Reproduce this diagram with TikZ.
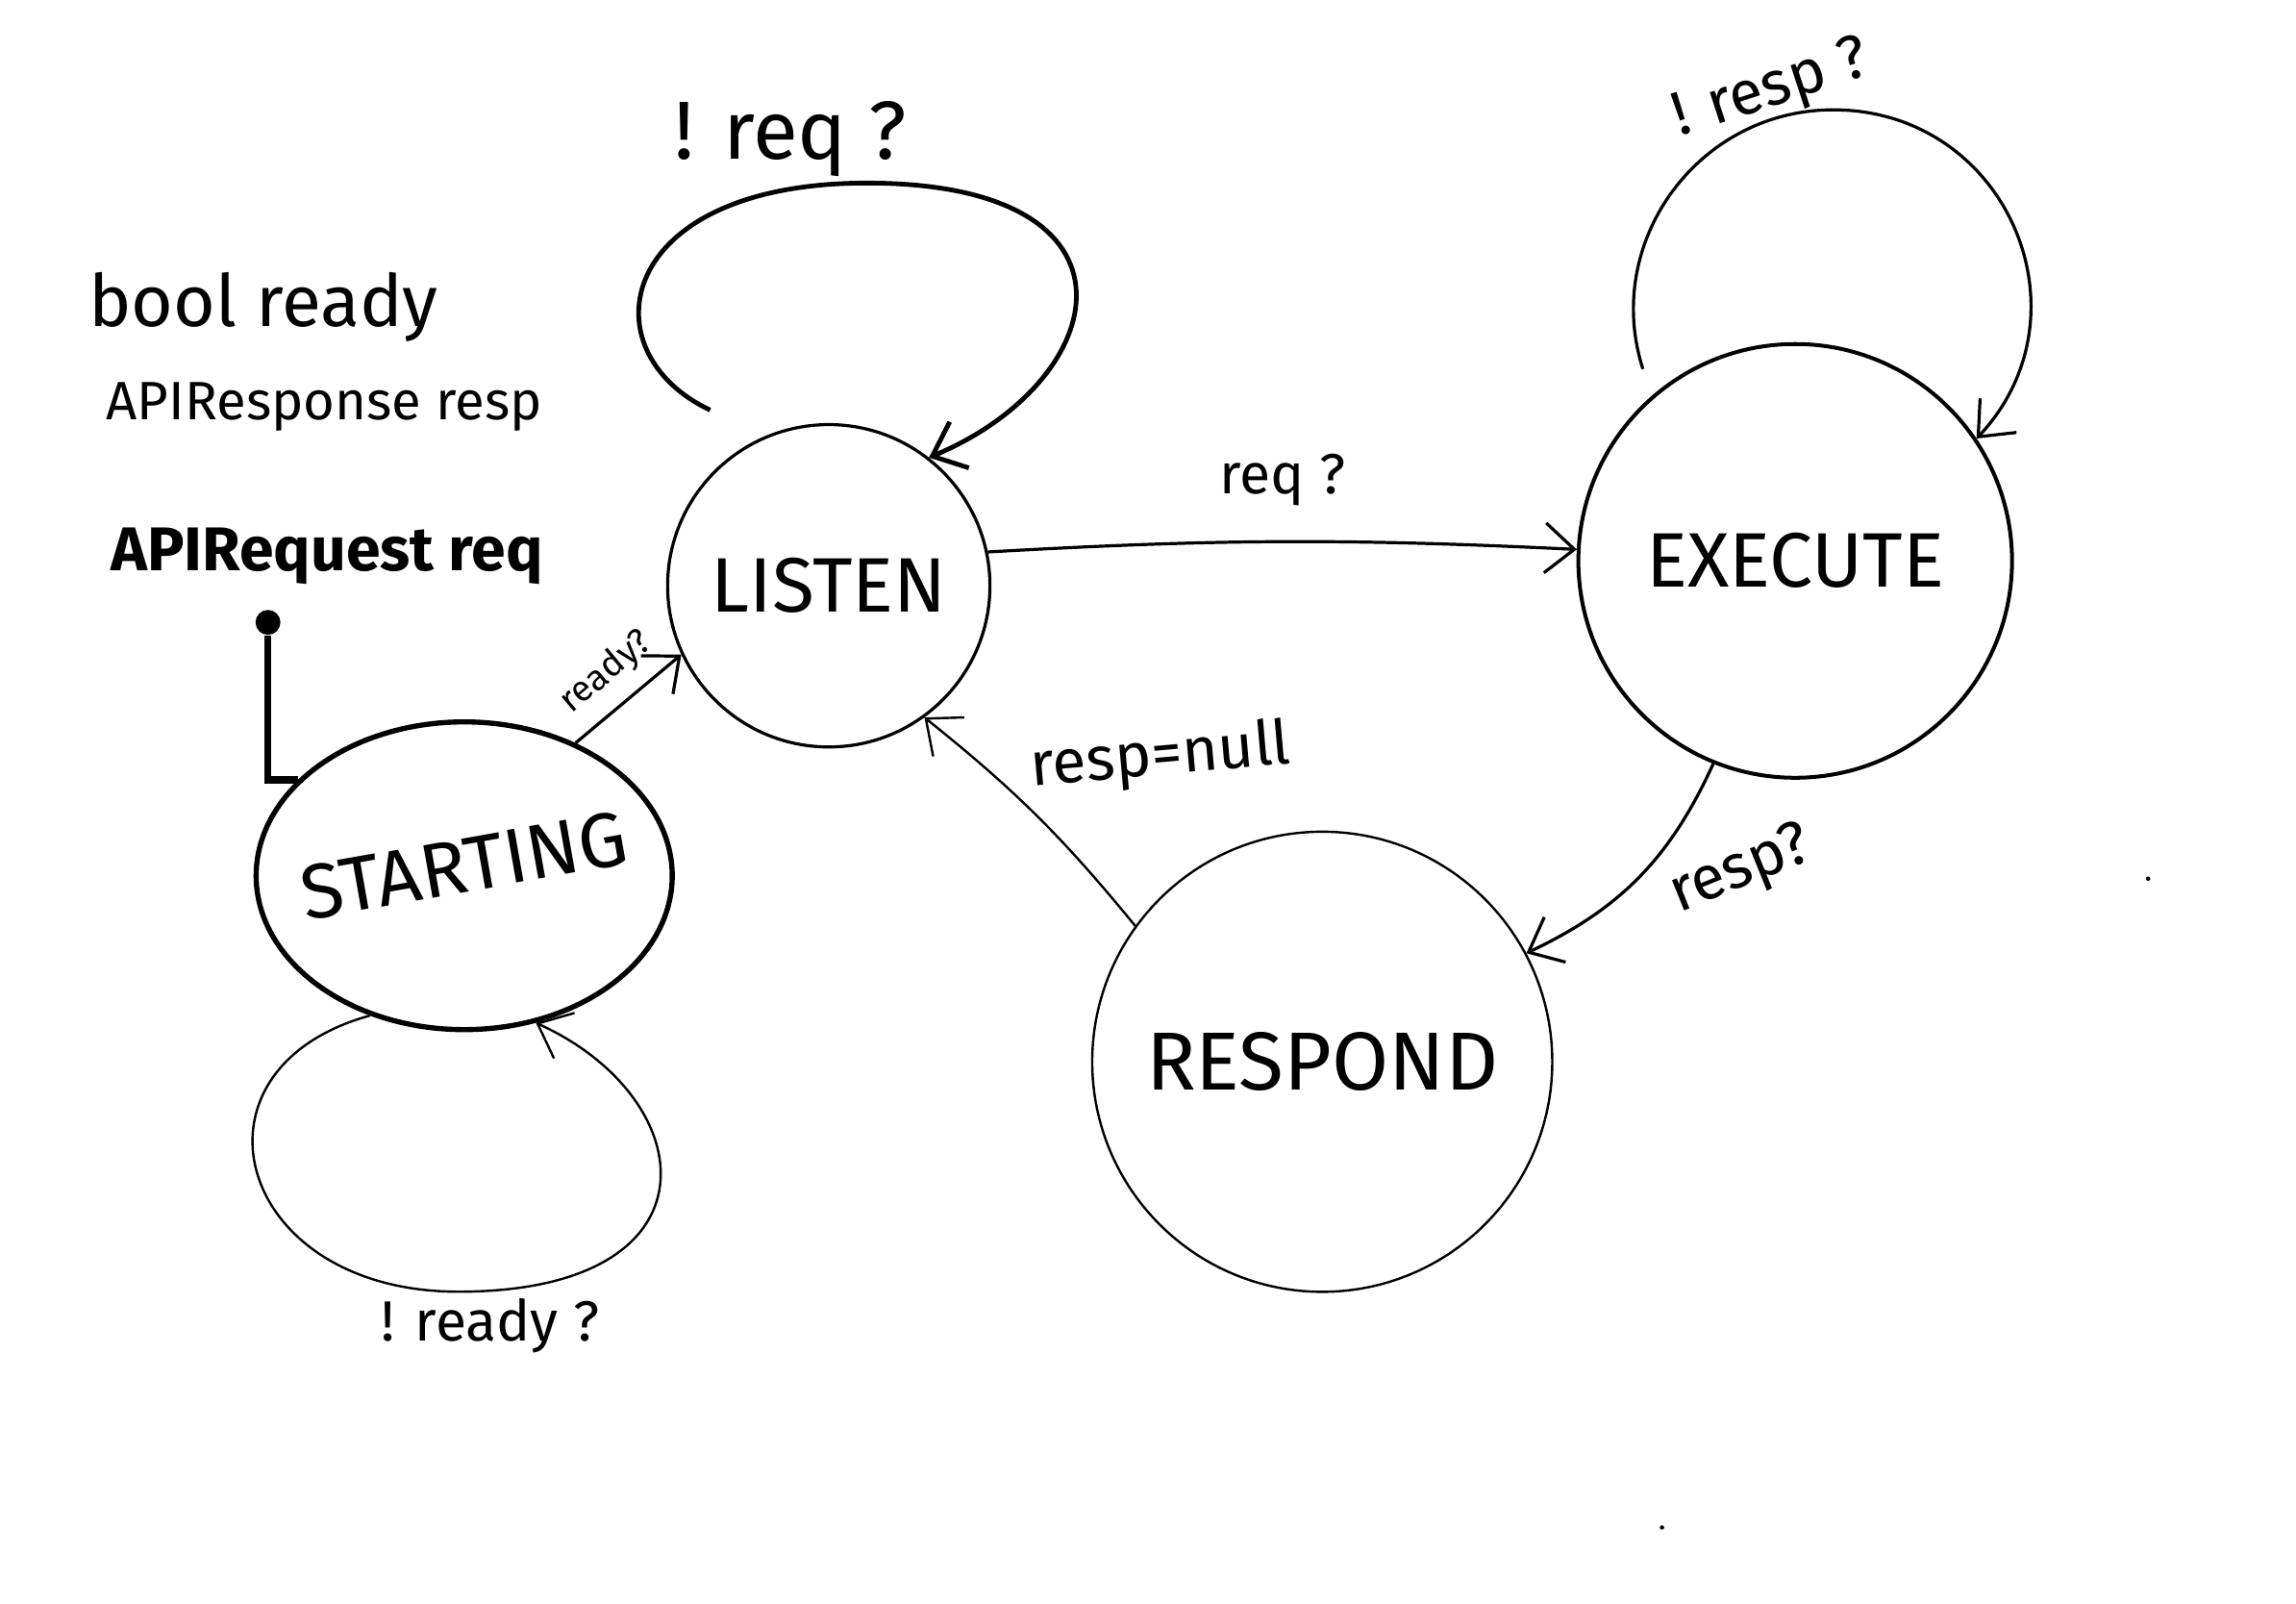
\documentclass[tikz,border=0pt]{standalone}
\usepackage{fontspec}
\setmainfont{Fira Sans}
\usetikzlibrary{arrows.meta,positioning,shapes.geometric}
\newcommand{\fsz}[1]{\fontsize{#1}{#1}\selectfont}
\tikzset{
  state/.style={draw, circle, inner sep=0pt, line width=0.6pt},
  startstate/.style={draw, ellipse, inner sep=0pt, line width=1pt,
    minimum width=2.84cm, minimum height=2.1cm},
  arr/.style={-{Straight Barb[length=2mm, width=3.4mm]}, line width=0.6pt},
  thinarr/.style={arr, line width=0.45pt},
  lbl/.style={inner sep=1pt, font=\fsz{11}},
  decl/.style={anchor=west, inner sep=0pt},
  speck/.style={circle, fill, inner sep=0pt, minimum size=0.03cm}
}

\begin{document}
\begin{tikzpicture}[x=0.01cm, y=0.01cm]
  \useasboundingbox (0,0) rectangle (1568,-1095);
  \node[state, minimum size=2.2cm, font=\fsz{15}] (lst) at (566,-400) {LISTEN};
  \node[state, minimum size=2.96cm, line width=0.75pt, font=\fsz{15}] (exe) at (1226,-383) {EXECUTE};
  \node[state, minimum size=3.14cm, line width=0.45pt, font=\fsz{16}] (rsp) at (903,-725) {RESPOND};
  \node[startstate, font=\fsz{15}] (strt) at (317,-598)
    {\smash{\makebox[0pt]{\raisebox{-0.4ex}{\rotatebox[origin=c]{10}{STARTING}}}}};

  \node[decl, font=\fsz{14}] (vready) at (60,-210) {bool ready};
  \node[decl, font=\fsz{10.5}] (vresp) at (72,-278) {APIResponse resp};
  \node[decl, font=\bfseries\fsz{12}] (vreq) at (75,-380) {APIRequest req};

  \node[circle, fill, inner sep=0pt, minimum size=0.17cm] (init) at (183,-425) {};
  \draw[line width=1.4pt] (init) |- (strt.150);

  \coordinate (lstloop) at (485,-280);
  \draw[arr, line width=0.9pt] (lstloop) .. controls (400,-240) and (420,-125) .. (592,-125)
    .. controls (790,-125) and (760,-260) .. (lst.52);
  \node[lbl, font=\fsz{16}] (lstlooplbl) at (540,-95) {! req ?};

  \coordinate (exeloop) at (1122,-252);
  \draw[arr] (exeloop) .. controls (1094,-165) and (1160,-75) .. (1252,-75)
    .. controls (1370,-75) and (1430,-214) .. (exe.34);
  \node[lbl, rotate=18, font=\fsz{12}] (exelooplbl) at (1210,-62) {! resp ?};

  \draw[thinarr] (strt.236) .. controls (120,-730) and (160,-882) .. (313,-882)
    .. controls (495,-882) and (480,-750) .. (strt.-64);
  \node[lbl] (strtlooplbl) at (335,-905) {! ready ?};

  \draw[arr] (lst.12) to[bend left=3] node[lbl, above=0.2cm] {req ?} (exe.177);
  \draw[arr] (exe.248) to[bend left=20] node[lbl, shift={(70,4)}, rotate=22, font=\fsz{12}] {resp?} (rsp.28);
  \draw[thinarr] (rsp.144) to[bend right=6] node[lbl, shift={(85,39)}, rotate=5, font=\fsz{12}] {resp=null} (lst.-54);
  \draw[arr] (strt.50) -- node[lbl, sloped, above=2pt, font=\fsz{7}] {ready?} (lst.205);

  \node[speck] (speckA) at (1467,-600) {};
  \node[speck] (speckB) at (1135,-1043) {};
\end{tikzpicture}
\end{document}
